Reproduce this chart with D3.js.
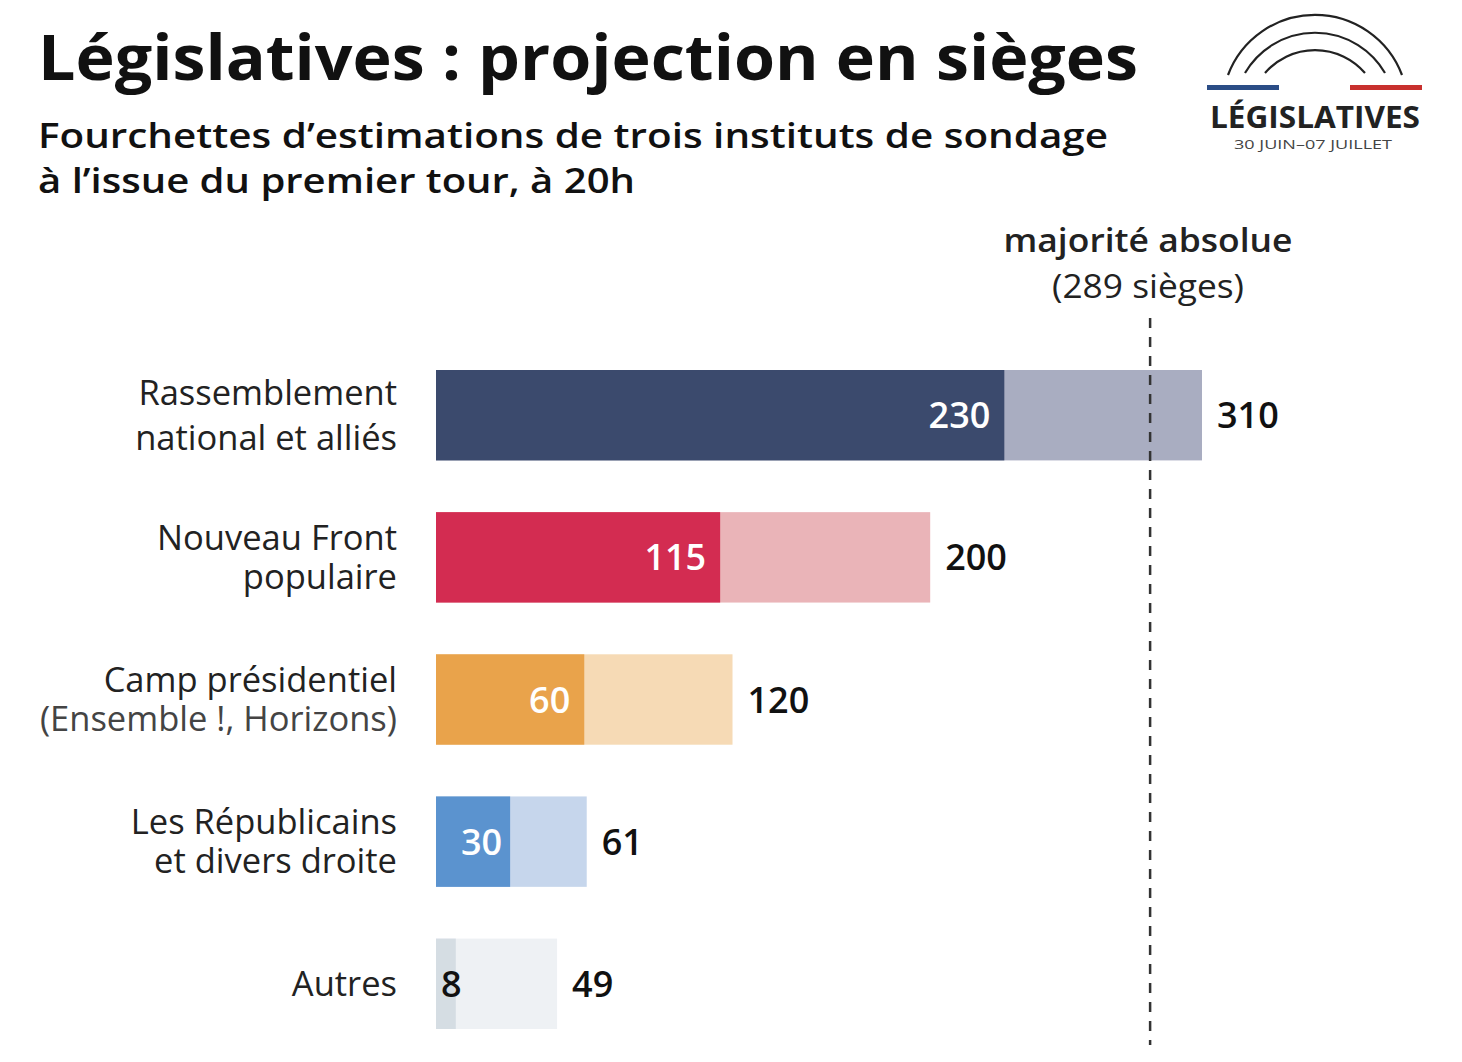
<!DOCTYPE html>
<html><head><meta charset="utf-8">
<script src="https://cdn.jsdelivr.net/npm/d3@7"></script>
<style>body{margin:0;background:#fff}</style>
</head><body>
<script>
const categories = [["Rassemblement","national et alliés"],["Nouveau Front","populaire"],["Camp présidentiel","(Ensemble !, Horizons)"],["Les Républicains","et divers droite"],["Autres"]];
const lowValues = [230,115,60,30,8];
const highValues = [310,200,120,61,49];
const majority = 289;
const darkColors = ["#3b4a6d","#d32c51","#e9a34b","#5b93cf","#d5dde3"];
const lightColors = ["#a9adc1","#eab4b8","#f6dab5","#c6d6ec","#eef1f4"];

const W=1462,H=1062;
const font = "'Open Sans', 'Noto Sans', sans-serif";
const svg = d3.select("body").append("svg").attr("width",W).attr("height",H).style("font-family",font);
svg.append("rect").attr("width",W).attr("height",H).attr("fill","#fff");

const x = d3.scaleLinear().domain([0,310]).range([436,1202]);
const y = d3.scaleBand().domain(d3.range(categories.length)).range([370,1029]).paddingInner(0.364);

function fit(sel,w){sel.attr("textLength",w).attr("lengthAdjust","spacingAndGlyphs");}
svg.append("text").attr("x",38).attr("y",80).text("Législatives : projection en sièges")
  .attr("font-size",62).attr("font-weight",700).attr("fill","#111").call(fit,1100);
svg.append("text").attr("x",38).attr("y",148).text("Fourchettes d’estimations de trois instituts de sondage")
  .attr("font-size",35).attr("font-weight",600).attr("fill","#111").call(fit,1070);
svg.append("text").attr("x",38).attr("y",193).text("à l’issue du premier tour, à 20h")
  .attr("font-size",35).attr("font-weight",600).attr("fill","#111").call(fit,597);

// logo
const lg = svg.append("g");
[[1228,1402,75,93],[1245,1385,73,81],[1265,1365,73,66]].forEach(([a,b,yy,r])=>{
  lg.append("path").attr("d",`M${a},${yy} A${r},${r} 0 0 1 ${b},${yy}`).attr("fill","none").attr("stroke","#222").attr("stroke-width",2.2);
});
lg.append("rect").attr("x",1207).attr("y",85).attr("width",72).attr("height",5).attr("fill","#2b4d86");
lg.append("rect").attr("x",1350).attr("y",85).attr("width",72).attr("height",5).attr("fill","#c8302e");
lg.append("text").attr("x",1315).attr("y",128).attr("text-anchor","middle").text("LÉGISLATIVES")
  .attr("font-size",30).attr("font-weight",700).attr("fill","#222").call(fit,210);
lg.append("text").attr("x",1313).attr("y",149).attr("text-anchor","middle").text("30 JUIN–07 JUILLET")
  .attr("font-size",12).attr("fill","#444").call(fit,158);

// bars
const rows = svg.append("g").selectAll("g").data(categories).join("g");
rows.append("rect").attr("x",x(0)).attr("y",(d,i)=>y(i)).attr("height",y.bandwidth())
  .attr("width",(d,i)=>x(highValues[i])-x(0)).attr("fill",(d,i)=>lightColors[i]);
rows.append("rect").attr("x",x(0)).attr("y",(d,i)=>y(i)).attr("height",y.bandwidth())
  .attr("width",(d,i)=>x(lowValues[i])-x(0)).attr("fill",(d,i)=>darkColors[i]);

// majority line (drawn over bars)
svg.append("line").attr("x1",x(majority)).attr("x2",x(majority)).attr("y1",318).attr("y2",1045)
  .attr("stroke","#333").attr("stroke-width",2.5).attr("stroke-dasharray","10,9");
svg.append("text").attr("x",1148).attr("y",252).attr("text-anchor","middle").text("majorité absolue")
  .attr("font-size",32).attr("font-weight",600).attr("fill","#222").call(fit,289);
svg.append("text").attr("x",1148).attr("y",298).attr("text-anchor","middle").text("(289 sièges)")
  .attr("font-size",32).attr("fill","#222").call(fit,192);

const labels = svg.append("g").selectAll("g").data(categories).join("g");
// low labels
labels.append("text").attr("font-size",36).attr("font-weight",600)
  .attr("y",(d,i)=>y(i)+y.bandwidth()/2+13)
  .attr("x",(d,i)=> (i===4) ? x(0)+5 : x(lowValues[i])-(i===3?8:14))
  .attr("text-anchor",(d,i)=> i===4 ? "start" : "end")
  .attr("fill",(d,i)=> i===4 ? "#111" : "#fff")
  .text((d,i)=>lowValues[i]);
// high labels
labels.append("text").attr("font-size",36).attr("font-weight",600).attr("fill","#111")
  .attr("x",(d,i)=>x(highValues[i])+15).attr("y",(d,i)=>y(i)+y.bandwidth()/2+13)
  .text((d,i)=>highValues[i]);

// category labels
const lineGap=[45,39,39,39,0];
labels.each(function(d,i){
  const g=d3.select(this);
  const cy=y(i)+y.bandwidth()/2;
  const n=d.length, lh=lineGap[i];
  d.forEach((t,k)=>{
    g.append("text").attr("x",397).attr("text-anchor","end")
      .attr("y",cy+ (k-(n-1)/2)*lh + 12)
      .attr("font-size",34.5).attr("fill",(i===2&&k===1)?"#444":"#222")
      .text(t);
  });
});
</script>
</body></html>
